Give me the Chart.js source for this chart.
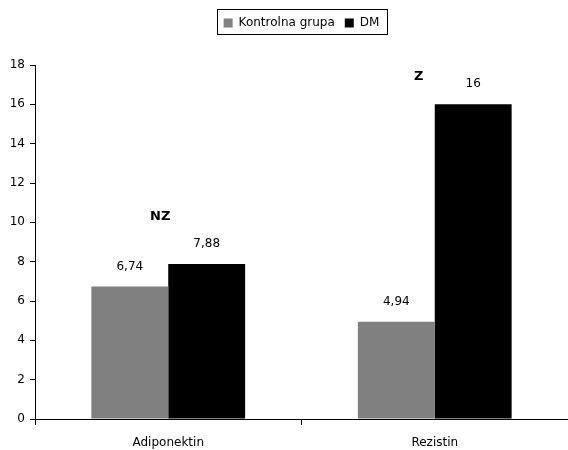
<!DOCTYPE html>
<html>
<head>
<meta charset="utf-8">
<script src="https://cdn.jsdelivr.net/npm/chart.js@4/dist/chart.umd.min.js"></script>
<style>
  html, body { margin: 0; padding: 0; background: #fff; }
  canvas { display: block; }
</style>
</head>
<body>
<canvas id="c" width="568" height="450"></canvas>
<script>
const categories = ['Adiponektin', 'Rezistin'];
const seriesNames = ['Kontrolna grupa', 'DM'];
const kontrolnaValues = [6.74, 4.94];
const dmValues = [7.88, 16];
const yTicks = [0, 2, 4, 6, 8, 10, 12, 14, 16, 18];
// significance marks above each pair: text, value height
const significance = ['NZ', 'Z'];
const significanceLevel = [10.3, 17.4];

const FONT = '"DejaVu Sans", Verdana, sans-serif';

const fmt = v => String(v).replace('.', ',');

const valueLabels = {
  id: 'valueLabels',
  afterDatasetsDraw(chart) {
    const ctx = chart.ctx;
    ctx.save();
    ctx.font = '12px ' + FONT;
    ctx.fillStyle = '#000';
    ctx.textAlign = 'center';
    ctx.textBaseline = 'middle';
    chart.data.datasets.forEach((ds, i) => {
      chart.getDatasetMeta(i).data.forEach((bar, j) => {
        ctx.fillText(fmt(ds.data[j]), bar.x, bar.y - 20);
      });
    });
    // significance marks
    const xs = chart.scales.x, ys = chart.scales.y;
    ctx.font = 'bold 13px ' + FONT;
    significance.forEach((t, j) => {
      const x = xs.getPixelForValue(j) - (j === 0 ? 8 : 16);
      ctx.fillText(t, x, ys.getPixelForValue(significanceLevel[j]));
    });
    ctx.restore();
  }
};

// fixed-height legend band plus a frame around the legend items
const legendFrame = {
  id: 'legendFrame',
  beforeInit(chart) {
    const l = chart.legend;
    if (!l) return;
    const origFit = l.fit;
    l.fit = function () {
      origFit.call(this);
      this.height = 58;
    };
  },
  afterDraw(chart) {
    const l = chart.legend;
    if (!l || !l.legendHitBoxes.length) return;
    const boxes = l.legendHitBoxes;
    const first = boxes[0], last = boxes[boxes.length - 1];
    const x0 = Math.round(first.left - 7) + 0.5;
    const x1 = Math.round(last.left + last.width + 8) + 0.5;
    const ctx = chart.ctx;
    ctx.save();
    ctx.strokeStyle = '#000';
    ctx.lineWidth = 1;
    ctx.strokeRect(x0, 9.5, x1 - x0, 25);
    ctx.restore();
  }
};

new Chart(document.getElementById('c'), {
  type: 'bar',
  data: {
    labels: categories,
    datasets: [
      { label: seriesNames[0], data: kontrolnaValues, backgroundColor: '#808080', borderWidth: 0 },
      { label: seriesNames[1], data: dmValues, backgroundColor: '#000000', borderWidth: 0 }
    ]
  },
  options: {
    responsive: false,
    animation: false,
    devicePixelRatio: 1,
    layout: { padding: { left: 0, right: 0, top: 7, bottom: 0 } },
    datasets: { bar: { categoryPercentage: 0.577, barPercentage: 1 } },
    plugins: {
      tooltip: { enabled: false },
      legend: {
        position: 'top',
        fullSize: false,
        labels: {
          font: { family: FONT, size: 12 },
          color: '#000',
          boxWidth: 9,
          boxHeight: 9,
          padding: 10
        }
      }
    },
    scales: {
      x: {
        afterFit(axis) { axis.height = 31; },
        grid: { display: true, offset: true, drawOnChartArea: false, tickLength: 6, color: '#000' },
        border: { color: '#000', width: 1 },
        ticks: { font: { family: FONT, size: 12 }, color: '#000', padding: 11 }
      },
      y: {
        min: 0,
        max: 18,
        afterFit(axis) { axis.width = 35; },
        afterBuildTicks(axis) { axis.ticks = yTicks.map(v => ({ value: v })); },
        grid: { display: true, drawOnChartArea: false, tickLength: 5, color: '#000' },
        border: { color: '#000', width: 1 },
        ticks: { font: { family: FONT, size: 12 }, color: '#000', padding: 5 }
      }
    }
  },
  plugins: [valueLabels, legendFrame]
});
</script>
</body>
</html>
